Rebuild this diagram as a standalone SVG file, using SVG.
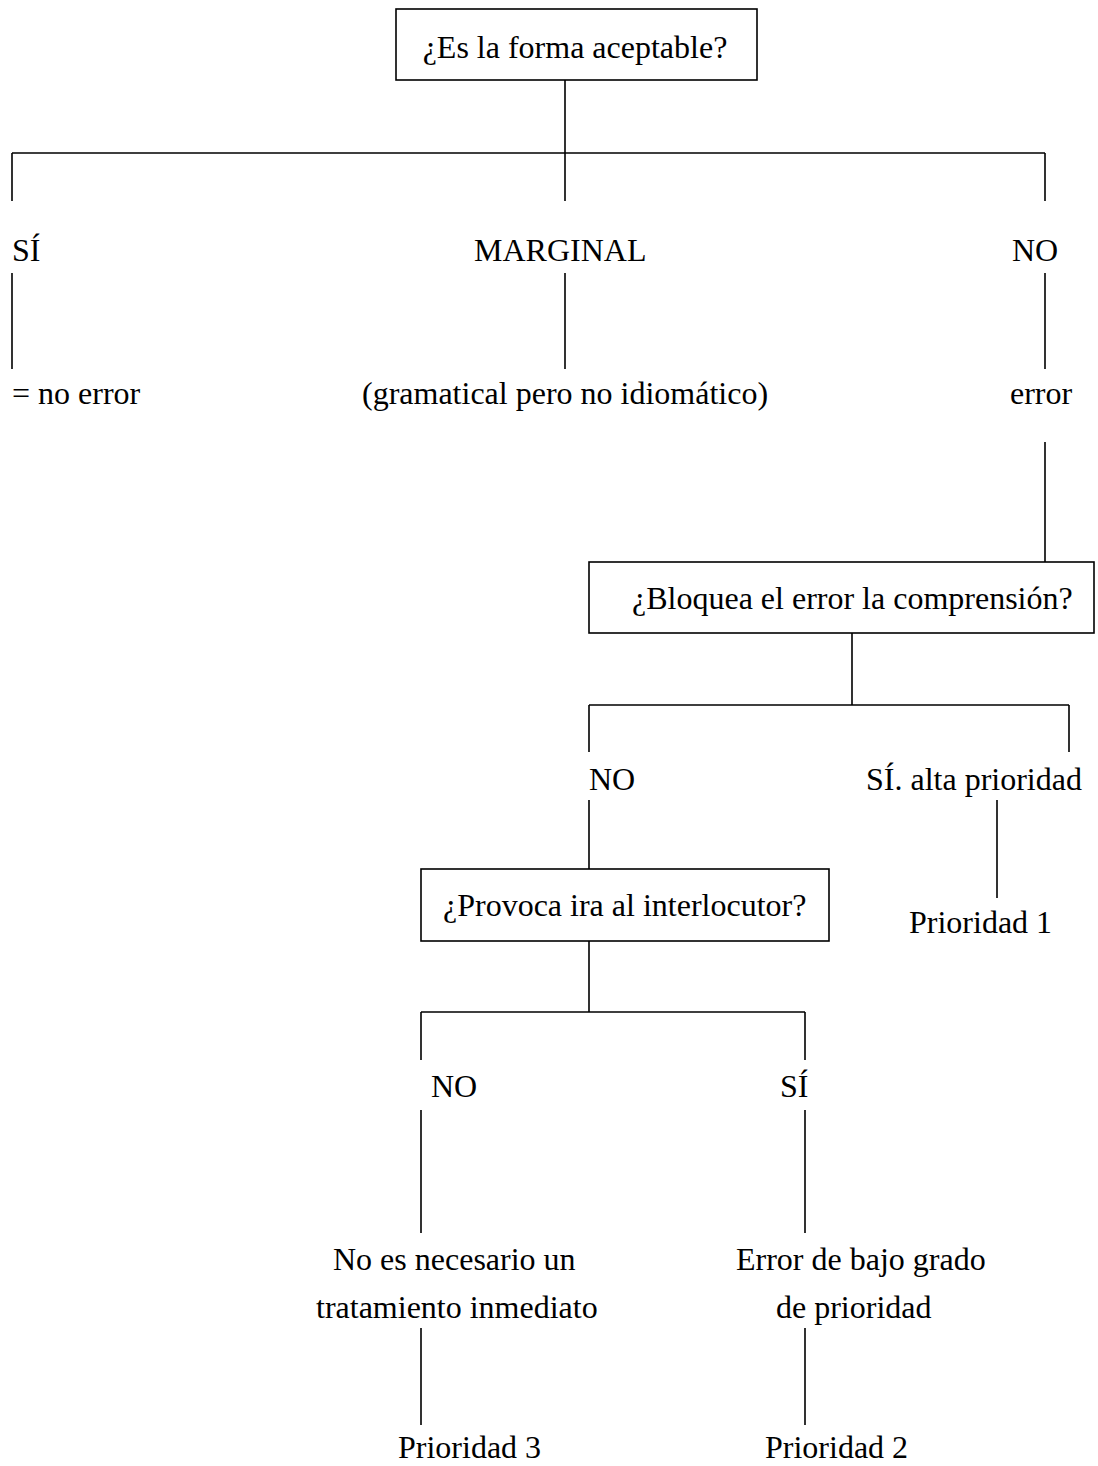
<svg xmlns="http://www.w3.org/2000/svg" width="1098" height="1466" viewBox="0 0 1098 1466">
<style>
.t{font-family:"Liberation Serif","Times New Roman",serif;font-size:32px;fill:#000}
.box{fill:#fff;stroke:#000;stroke-width:1.6}
.ln{stroke:#000;stroke-width:1.6;fill:none}
</style>
<rect width="1098" height="1466" fill="#fff"/>
<g id="connectors">
<path class="ln" d="M565 80V153M12 153H1045M12 153V201M565 153V201M1045 153V201"/>
<path class="ln" d="M12 273V369M565 273V369M1045 273V369M1045 442V562"/>
<path class="ln" d="M852 633V705M589 705H1069M589 705V752M1069 705V752M997 800V898M589 800V869"/>
<path class="ln" d="M589 941V1012M421 1012H805M421 1012V1060M805 1012V1060M421 1110V1233M805 1110V1233M421 1328V1425M805 1328V1425"/>
</g>
<g id="q1"><rect class="box" x="396" y="9" width="361" height="71"/><text class="t" x="575" y="58" text-anchor="middle">¿Es la forma aceptable?</text></g>
<g id="si1"><text class="t" x="12" y="261">SÍ</text></g>
<g id="marginal"><text class="t" x="474" y="261">MARGINAL</text></g>
<g id="no1"><text class="t" x="1012" y="261">NO</text></g>
<g id="noerror"><text class="t" x="12" y="404">= no error</text></g>
<g id="gramatical"><text class="t" x="362" y="404">(gramatical pero no idiomático)</text></g>
<g id="error"><text class="t" x="1010" y="404">error</text></g>
<g id="q2"><rect class="box" x="589" y="562" width="505" height="71"/><text class="t" x="632" y="609">¿Bloquea el error la comprensión?</text></g>
<g id="no2"><text class="t" x="589" y="790">NO</text></g>
<g id="si2"><text class="t" x="866" y="790">SÍ. alta prioridad</text></g>
<g id="p1"><text class="t" x="909" y="933">Prioridad 1</text></g>
<g id="q3"><rect class="box" x="421" y="869" width="408" height="72"/><text class="t" x="443" y="916">¿Provoca ira al interlocutor?</text></g>
<g id="no3"><text class="t" x="431" y="1097">NO</text></g>
<g id="si3"><text class="t" x="780" y="1097">SÍ</text></g>
<g id="notrat"><text class="t" x="333" y="1270">No es necesario un</text><text class="t" x="316" y="1318">tratamiento inmediato</text></g>
<g id="bajo"><text class="t" x="736" y="1270">Error de bajo grado</text><text class="t" x="776" y="1318">de prioridad</text></g>
<g id="p3"><text class="t" x="398" y="1458">Prioridad 3</text></g>
<g id="p2"><text class="t" x="765" y="1458">Prioridad 2</text></g>
</svg>
